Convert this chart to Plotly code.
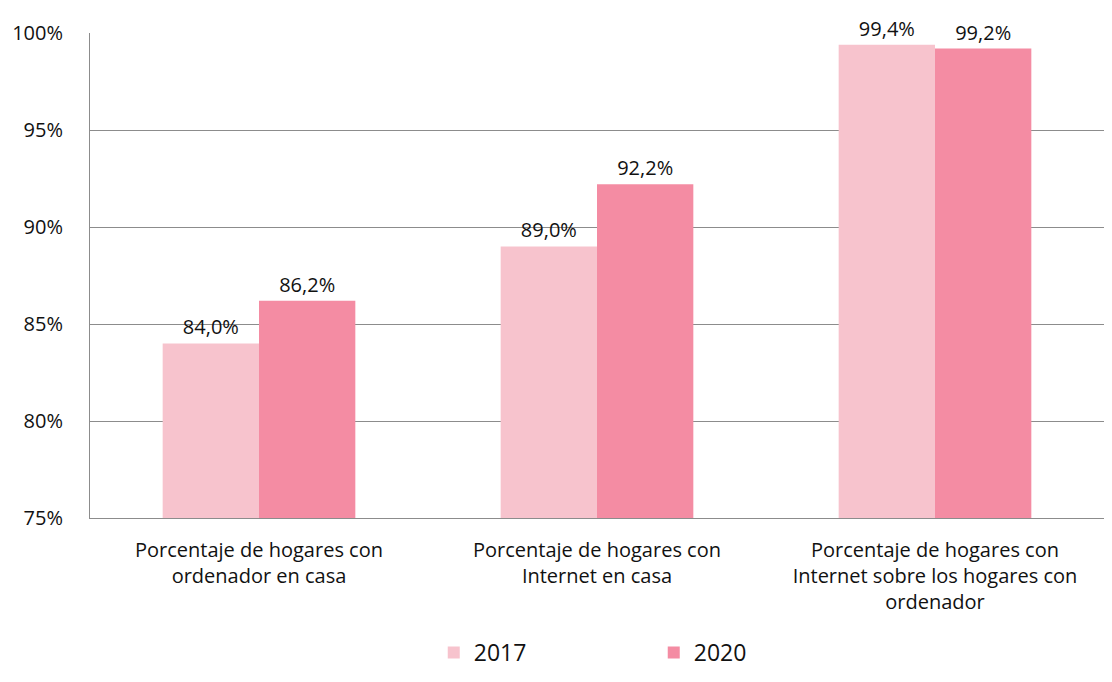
import plotly.graph_objects as go

categorias = [
    "Porcentaje de hogares con<br>ordenador en casa",
    "Porcentaje de hogares con<br>Internet en casa",
    "Porcentaje de hogares con<br>Internet sobre los hogares con<br>ordenador",
]
valores_2017 = [84.0, 89.0, 99.4]
valores_2020 = [86.2, 92.2, 99.2]

fuente = "Open Sans, Liberation Sans, sans-serif"

fig = go.Figure()
fig.add_trace(go.Bar(x=categorias, y=valores_2017, name="2017",
                     marker=dict(color="#F7C3CD", line=dict(width=0)),
                     texttemplate="%{y:.1f}%", textposition="outside",
                     textfont=dict(size=20, color="#111111"), cliponaxis=False))
fig.add_trace(go.Bar(x=categorias, y=valores_2020, name="2020",
                     marker=dict(color="#F48CA3", line=dict(width=0)),
                     texttemplate="%{y:.1f}%", textposition="outside",
                     textfont=dict(size=20, color="#111111"), cliponaxis=False))

# la página tiene 8px de margen, así que la figura se ajusta para no desbordar
fig.update_layout(
    width=1096, height=666,
    margin=dict(l=82, r=0, t=25, b=156, autoexpand=False),
    plot_bgcolor="white", paper_bgcolor="white",
    separators=",.",
    barmode="group", bargap=0.43, bargroupgap=0,
    font=dict(family=fuente, size=20, color="#111111"),
    showlegend=True,
    legend=dict(orientation="h", x=0.339, xanchor="left", y=-0.3216, yanchor="bottom",
                font=dict(size=23), itemwidth=30, entrywidth=175,
                traceorder="normal"),
    uniformtext=dict(mode=False),
)
fig.update_yaxes(range=[75, 100], dtick=5, ticksuffix="%", automargin=False,
                 showgrid=True, gridcolor="#8c8c8c", gridwidth=1,
                 showline=True, linecolor="#8c8c8c", linewidth=1,
                 ticks="", ticklabelstandoff=22,
                 tickfont=dict(size=20), zeroline=False)
fig.update_xaxes(showline=True, linecolor="#8c8c8c", linewidth=1, automargin=False,
                 tickfont=dict(size=20), ticks="outside", ticklen=14,
                 tickcolor="rgba(0,0,0,0)")

fig.write_html("out.html")
